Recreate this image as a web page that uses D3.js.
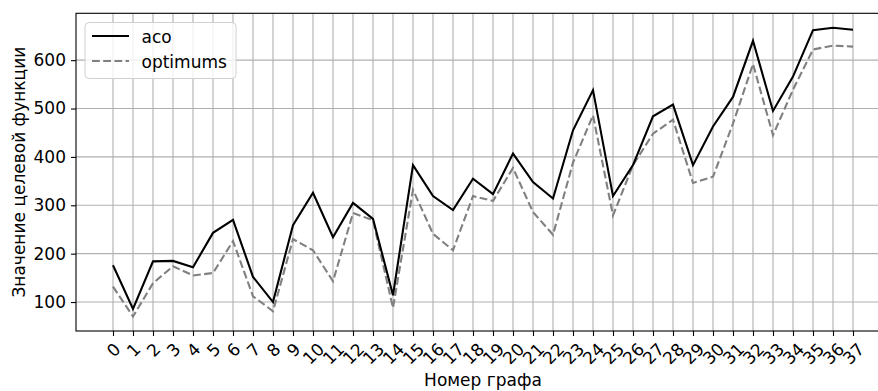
<!DOCTYPE html>
<html>
<head>
<meta charset="utf-8">
<script src="https://cdn.jsdelivr.net/npm/d3@7"></script>
<style>
  html, body { margin: 0; padding: 0; background: #fff; }
  svg { display: block; font-family: "DejaVu Sans", sans-serif; }
</style>
</head>
<body>
<svg id="chart" width="878" height="391"></svg>
<script>
// Graph indices (x axis) and objective values of the two series
const graphIds = d3.range(0, 38);
const acoValues = [176, 86, 184, 185, 172, 243, 270, 152, 100, 259,
                   326, 234, 305, 272, 114, 383, 319, 290, 355, 323,
                   407, 348, 314, 455, 538, 319, 383, 484, 508, 383,
                   463, 524, 640, 495, 566, 662, 667, 663];
const optimumValues = [132, 70, 139, 174, 155, 160, 226, 112, 81, 230,
                       207, 143, 284, 269, 88, 332, 241, 207, 319, 309,
                       377, 286, 239, 388, 486, 279, 383, 448, 477, 346,
                       359, 469, 592, 445, 539, 622, 630, 628];
const yTickValues = [100, 200, 300, 400, 500, 600];
const seriesNames = ["aco", "optimums"];

const svg = d3.select("#chart");
const plot = { left: 76, right: 890, top: 13.3, bottom: 331 };
const fontSize = 17;

// Axis limits with 5% padding around the data
const xPad = (graphIds[graphIds.length - 1] - graphIds[0]) * 0.05;
const x = d3.scaleLinear()
  .domain([graphIds[0] - xPad, graphIds[graphIds.length - 1] + xPad])
  .range([plot.left, plot.right]);
const allVals = acoValues.concat(optimumValues);
const yMin = d3.min(allVals), yMax = d3.max(allVals);
const yPad = (yMax - yMin) * 0.05;
const y = d3.scaleLinear()
  .domain([yMin - yPad, yMax + yPad])
  .range([plot.bottom, plot.top]);

svg.append("defs").append("clipPath").attr("id", "plot-clip")
  .append("rect")
  .attr("x", plot.left).attr("y", plot.top)
  .attr("width", plot.right - plot.left).attr("height", plot.bottom - plot.top);

// Grid
const grid = svg.append("g").attr("clip-path", "url(#plot-clip)");
grid.selectAll("line.vgrid").data(graphIds).join("line")
  .attr("x1", d => x(d)).attr("x2", d => x(d))
  .attr("y1", plot.top).attr("y2", plot.bottom)
  .attr("stroke", "#b0b0b0").attr("stroke-width", 1.1);
grid.selectAll("line.hgrid").data(yTickValues).join("line")
  .attr("x1", plot.left).attr("x2", plot.right)
  .attr("y1", d => y(d)).attr("y2", d => y(d))
  .attr("stroke", "#b0b0b0").attr("stroke-width", 1.1);

// Series lines
const line = d3.line().x((d, i) => x(graphIds[i])).y(d => y(d));
const lines = svg.append("g").attr("clip-path", "url(#plot-clip)");
lines.append("path").datum(optimumValues)
  .attr("d", line).attr("fill", "none")
  .attr("stroke", "#808080").attr("stroke-width", 2.1)
  .attr("stroke-dasharray", "7.8,3.4");
lines.append("path").datum(acoValues)
  .attr("d", line).attr("fill", "none")
  .attr("stroke", "#000").attr("stroke-width", 2.1)
  .attr("stroke-linejoin", "miter");

// Frame
svg.append("rect")
  .attr("x", plot.left).attr("y", plot.top)
  .attr("width", plot.right - plot.left).attr("height", plot.bottom - plot.top)
  .attr("fill", "none").attr("stroke", "#000").attr("stroke-width", 1.1);

// Y axis
const yAxis = svg.append("g")
  .attr("transform", `translate(${plot.left},0)`)
  .call(d3.axisLeft(y).tickValues(yTickValues).tickSize(5).tickPadding(5).tickFormat(d3.format("d")));
yAxis.select(".domain").remove();
yAxis.selectAll(".tick line").attr("stroke", "#000").attr("stroke-width", 1.1);
yAxis.selectAll(".tick text")
  .attr("font-size", fontSize).attr("font-family", "DejaVu Sans").attr("fill", "#000");

// X axis with labels rotated 45 degrees, each centred under its tick
const xAxis = svg.append("g")
  .attr("transform", `translate(0,${plot.bottom})`)
  .call(d3.axisBottom(x).tickValues(graphIds).tickSize(5).tickFormat(d3.format("d")));
xAxis.select(".domain").remove();
xAxis.selectAll(".tick line").attr("stroke", "#000").attr("stroke-width", 1.1);
xAxis.selectAll(".tick text")
  .attr("font-size", fontSize).attr("font-family", "DejaVu Sans").attr("fill", "#000")
  .attr("dy", null)
  .attr("text-anchor", "middle")
  .attr("dominant-baseline", "central")
  .each(function () {
    const w = this.getComputedTextLength();
    const boxH = (w + fontSize) * Math.SQRT1_2;
    const cy = 9 + boxH / 2;
    d3.select(this).attr("y", null).attr("transform", `translate(0,${cy}) rotate(-45)`);
  });

// Axis titles
svg.append("text")
  .attr("x", (plot.left + plot.right) / 2).attr("y", 386)
  .attr("text-anchor", "middle").attr("font-size", fontSize)
  .text("Номер графа");
svg.append("text")
  .attr("transform", `translate(25,${(plot.top + plot.bottom) / 2}) rotate(-90)`)
  .attr("text-anchor", "middle").attr("font-size", fontSize)
  .text("Значение целевой функции");

// Legend
const legend = svg.append("g");
legend.append("rect")
  .attr("x", 85).attr("y", 22.5).attr("width", 151).attr("height", 56)
  .attr("rx", 4).attr("fill", "#fff").attr("fill-opacity", 0.8)
  .attr("stroke", "#d0d0d0").attr("stroke-width", 1);
const legendStyles = [
  { color: "#000", dash: null },
  { color: "#808080", dash: "7.8,3.4" }
];
seriesNames.forEach((name, i) => {
  const ly = 36 + i * 25;
  legend.append("line")
    .attr("x1", 92).attr("x2", 129).attr("y1", ly).attr("y2", ly)
    .attr("stroke", legendStyles[i].color).attr("stroke-width", 2.1)
    .attr("stroke-dasharray", legendStyles[i].dash);
  legend.append("text")
    .attr("x", 141.5).attr("y", ly + 6.5)
    .attr("font-size", fontSize)
    .text(name);
});
</script>
</body>
</html>
